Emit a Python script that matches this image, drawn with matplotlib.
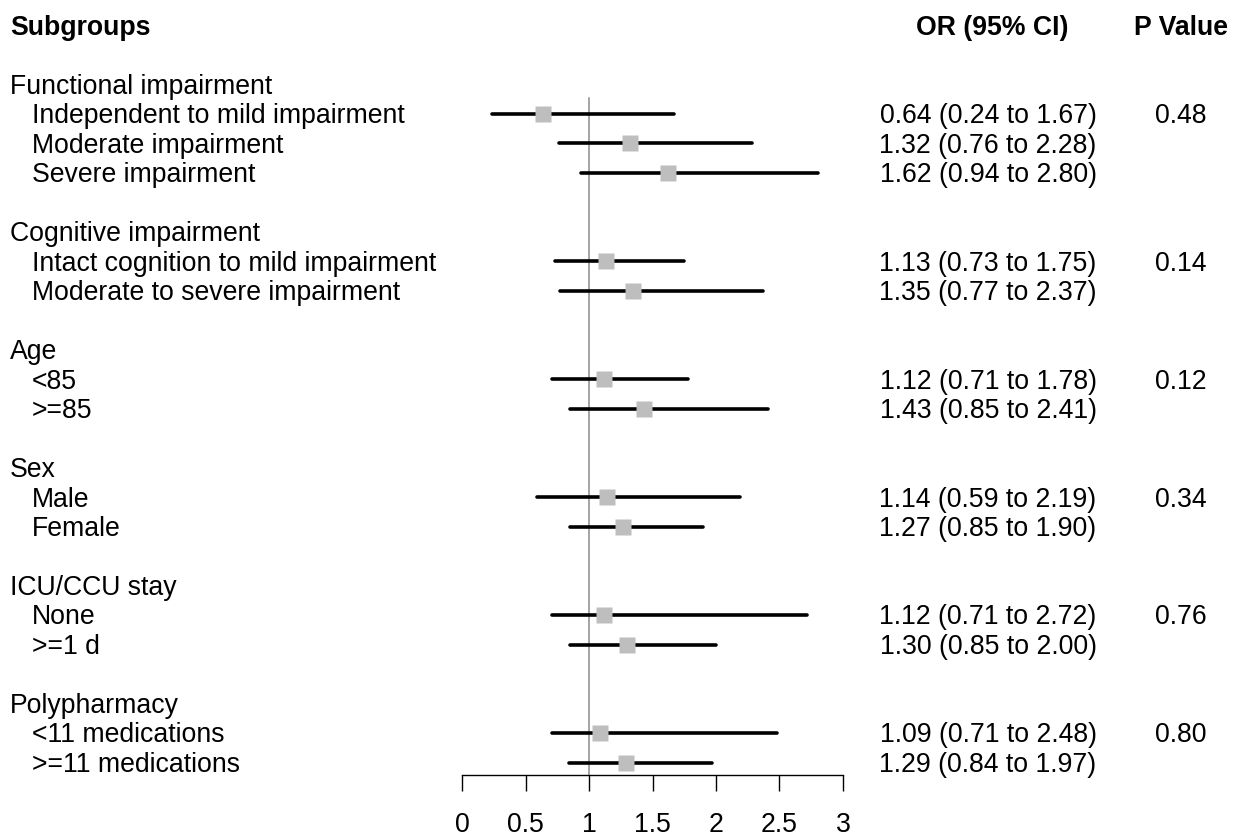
import matplotlib
matplotlib.use("Agg")
import matplotlib.pyplot as plt
from matplotlib.transforms import blended_transform_factory

plt.rcParams["font.family"] = ["Liberation Sans", "DejaVu Sans"]

# data
group_names = ["Functional impairment", "Cognitive impairment", "Age", "Sex",
               "ICU/CCU stay", "Polypharmacy"]
subgroups = [
    ["Independent to mild impairment", "Moderate impairment", "Severe impairment"],
    ["Intact cognition to mild impairment", "Moderate to severe impairment"],
    ["<85", ">=85"],
    ["Male", "Female"],
    ["None", ">=1 d"],
    ["<11 medications", ">=11 medications"],
]
odds_ratio = [[0.64, 1.32, 1.62], [1.13, 1.35], [1.12, 1.43], [1.14, 1.27],
              [1.12, 1.30], [1.09, 1.29]]
ci_lower = [[0.24, 0.76, 0.94], [0.73, 0.77], [0.71, 0.85], [0.59, 0.85],
            [0.71, 0.85], [0.71, 0.84]]
ci_upper = [[1.67, 2.28, 2.80], [1.75, 2.37], [1.78, 2.41], [2.19, 1.90],
            [2.72, 2.00], [2.48, 1.97]]
p_values = ["0.48", "0.14", "0.12", "0.34", "0.76", "0.80"]
x_ticks = [0, 0.5, 1, 1.5, 2, 2.5, 3]
x_tick_labels = ["0", "0.5", "1", "1.5", "2", "2.5", "3"]

W, H = 1243, 836
fig = plt.figure(figsize=(W / 100, H / 100), dpi=100)

# layout in pixels
row_h = 29.48
first_row = 84.5
axis_y = 775
fs = 19.2
ax = fig.add_axes([462 / W, (H - axis_y) / H, 381 / W, axis_y / H])
ax.set_xlim(0, 3)
ax.set_ylim((axis_y - first_row) / row_h, -first_row / row_h)

for side in ["left", "top", "right"]:
    ax.spines[side].set_visible(False)
ax.spines["bottom"].set_linewidth(1)
ax.set_yticks([])
ax.set_xticks(x_ticks)
ax.set_xticklabels(x_tick_labels)
ax.tick_params(axis="x", length=11.5, width=1, labelsize=fs, pad=15)

# reference line at OR = 1
ax.plot([1, 1], [0.45, (axis_y - first_row) / row_h], color="#8c8c8c",
        lw=1.1, clip_on=False, zorder=1)

tr = blended_transform_factory(fig.transFigure, ax.transData)
off = 9.3 / row_h  # baseline offset so caps are centred on the row


def put(xpx, k, s, ha="left", bold=False):
    fig.text(xpx / W, k + off, s, transform=tr, ha=ha, va="baseline",
             fontsize=fs, fontweight="bold" if bold else "normal")


put(10, -2, "Subgroups", bold=True)
put(992, -2, "OR (95% CI)", ha="center", bold=True)
put(1181, -2, "P Value", ha="center", bold=True)

k = 0
for gi, name in enumerate(group_names):
    put(10, k, name)
    k += 1
    for j, lab in enumerate(subgroups[gi]):
        o, lo, hi = odds_ratio[gi][j], ci_lower[gi][j], ci_upper[gi][j]
        ax.plot([lo, hi], [k, k], color="black", lw=2.6, solid_capstyle="round",
                zorder=2, clip_on=False)
        ax.plot(o, k, marker="s", ms=11.8, color="#bebebe", mec="none",
                zorder=3, clip_on=False)
        put(32, k, lab)
        put(988, k, f"{o:.2f} ({lo:.2f} to {hi:.2f})", ha="center")
        if j == 0:
            put(1181, k, p_values[gi], ha="center")
        k += 1
    k += 1

fig.savefig("out.png", dpi=100)
